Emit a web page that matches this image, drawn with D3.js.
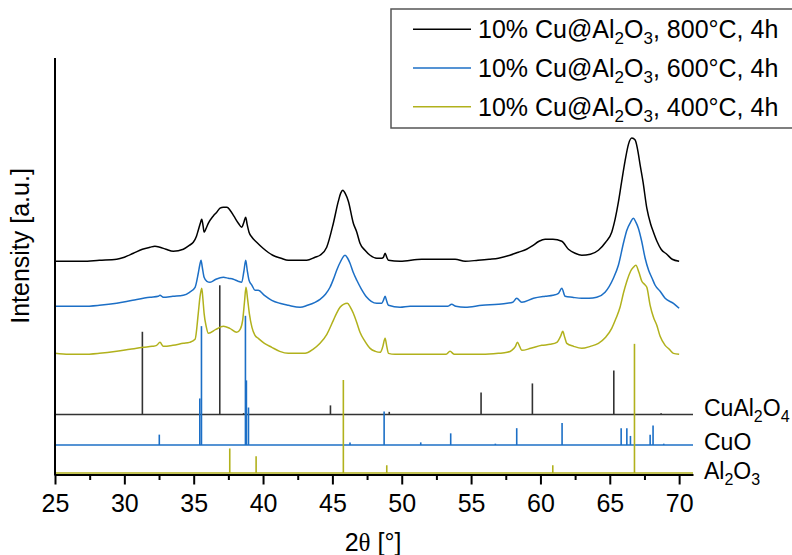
<!DOCTYPE html>
<html>
<head>
<meta charset="utf-8">
<script src="https://cdn.jsdelivr.net/npm/d3@7"></script>
<style>
  html, body { margin: 0; padding: 0; background: #fff; }
  svg { display: block; }
  text { font-family: "Liberation Sans", Arial, sans-serif; fill: #000; }
</style>
</head>
<body>
<svg id="chart" width="792" height="555"></svg>
<script>
// ---- Measured diffractograms: [2θ (°), intensity (a.u., stacked)] ----
const scan800 = [
  [25.0,213],[26.0,213],[27.0,213],[28.2,214],[29.45,215],[30.0,217],[30.65,221],[31.3,225],
  [31.85,227],[32.2,228],[32.57,227],[33.0,225],[33.53,223],[34.25,225],[34.7,229],[34.97,232],
  [35.2,238],[35.33,244],[35.5,252],[35.58,255],[35.68,248],[35.75,242],[35.9,246],[36.06,251],
  [36.4,258],[36.66,262],[36.9,266],[37.14,267],[37.4,267],[37.62,264],[37.9,258],[38.22,251],
  [38.46,247],[38.62,252],[38.75,257],[38.85,250],[38.99,242],[39.2,237],[39.54,232],[40.0,226],
  [40.7,219],[41.3,216],[41.82,214],[42.67,214],[43.15,214],[43.75,217],[44.11,219],[44.59,227],
  [45.07,251],[45.43,273],[45.6,281],[45.75,284],[45.95,280],[46.15,273],[46.51,251],[46.76,242],
  [46.99,231],[47.35,224],[47.72,219],[48.2,216],[48.56,216],[48.68,217],[48.8,221],[48.92,217],
  [49.04,214],[49.88,213],[51.44,215],[52.5,215],[53.85,215],[54.57,213],[55.5,214],[56.3,215],
  [56.97,216],[57.8,219],[58.41,222],[59.0,225],[59.38,228],[59.9,233],[60.34,235],[60.9,235],
  [61.54,233],[62.02,225],[62.5,221],[62.98,219],[63.6,220],[64.18,224],[64.7,232],[65.14,242],
  [65.4,256],[65.62,272],[65.85,292],[66.1,313],[66.35,330],[66.59,336],[66.83,334],[67.0,325],
  [67.19,309],[67.4,292],[67.67,266],[67.95,250],[68.15,242],[68.4,233],[68.7,225],[69.11,220],
  [69.5,215],[70.0,213]
];
const scan600 = [
  [25.0,168],[26.0,168],[27.04,168],[28.2,169],[29.45,171],[30.6,174],[31.85,177],[32.45,178],
  [32.57,179],[32.81,177],[33.5,178],[34.25,179],[34.7,182],[35.1,187],[35.33,201],[35.45,210],
  [35.53,214],[35.62,207],[35.75,197],[35.95,193],[36.18,192],[36.6,195],[37.14,197],[37.5,196],
  [37.86,195],[38.2,193],[38.46,192],[38.62,203],[38.75,214],[38.86,204],[38.99,194],[39.2,189],
  [39.42,184],[39.66,184],[40.1,179],[40.63,174],[41.2,171],[41.82,169],[42.67,167],[43.2,169],
  [43.75,172],[44.11,175],[44.5,180],[44.83,187],[45.1,196],[45.31,204],[45.6,213],[45.91,219],
  [46.1,216],[46.27,211],[46.5,202],[46.76,194],[47.1,185],[47.48,177],[47.8,173],[48.2,171],
  [48.56,171],[48.68,174],[48.8,178],[48.92,173],[49.04,169],[49.88,167],[50.6,168],[51.44,168],
  [52.4,168],[53.3,168],[53.6,170],[53.9,168],[54.57,167],[55.8,169],[56.97,170],[57.6,171],
  [58.0,172],[58.29,176],[58.65,172],[59.5,176],[60.34,178],[60.9,179],[61.3,181],[61.54,186],
  [61.78,178],[62.3,177],[62.98,176],[63.5,176],[64.06,177],[64.66,182],[65.26,196],[65.62,209],
  [66.0,232],[66.23,244],[66.5,252],[66.7,256],[66.88,252],[67.06,246],[67.3,233],[67.55,216],
  [67.8,204],[68.05,196],[68.27,189],[68.63,183],[68.99,176],[69.59,171],[70.0,166]
];
const scan400 = [
  [25.0,121],[26.0,120],[27.04,120],[28.2,121],[29.45,123],[30.4,125],[31.37,127],[32.0,128],
  [32.33,129],[32.57,132],[32.81,128],[33.5,129],[34.25,131],[34.7,132],[35.1,135],[35.33,161],
  [35.45,177],[35.58,186],[35.66,176],[35.75,161],[35.9,148],[36.06,141],[36.6,145],[37.14,148],
  [37.6,146],[38.1,142],[38.35,145],[38.53,154],[38.66,172],[38.77,187],[38.88,176],[39.01,161],
  [39.2,147],[39.42,139],[39.66,136],[40.1,131],[40.63,127],[41.2,123],[41.82,121],[42.67,121],
  [43.03,121],[43.6,125],[44.11,131],[44.6,140],[45.07,154],[45.3,161],[45.55,167],[45.8,170],
  [46.08,171],[46.3,167],[46.51,161],[46.75,152],[46.99,142],[47.35,133],[47.72,126],[48.1,123],
  [48.44,122],[48.62,127],[48.8,136],[48.92,128],[49.04,121],[49.52,120],[50.5,120],[51.44,120],
  [52.4,120],[53.2,120],[53.48,123],[53.8,120],[54.57,120],[55.8,120],[56.97,121],[57.6,122],
  [57.93,124],[58.2,128],[58.34,132],[58.5,128],[58.65,124],[59.3,126],[60.1,129],[60.7,130],
  [61.18,132],[61.45,138],[61.61,143],[61.75,137],[61.9,131],[62.4,128],[62.98,126],[63.6,128],
  [64.18,131],[64.7,137],[65.14,146],[65.45,156],[65.74,167],[66.0,182],[66.23,193],[66.5,203],
  [66.7,207],[66.88,209],[67.1,202],[67.31,193],[67.5,190],[67.67,187],[67.91,169],[68.15,157],
  [68.39,149],[68.63,138],[68.99,129],[69.3,125],[69.59,121],[70.0,120]
];

const seriesNames = ["10% Cu@Al₂O₃, 800°C, 4h", "10% Cu@Al₂O₃, 600°C, 4h", "10% Cu@Al₂O₃, 400°C, 4h"];

// ---- Reference patterns: [2θ (°), relative intensity (%)] ----
const refCuAl2O4 = [
  [31.3,64],[36.88,100],[38.6,1],[44.86,7],[49.1,2],[55.72,17],[59.42,24],[65.29,34],[68.7,1]
];
const refCuO = [
  [32.52,8],[35.44,36],[35.56,92],[38.73,100],[38.8,50],[38.95,29],[46.27,2],[48.73,26],
  [51.37,2],[53.53,9],[56.75,1],[58.29,13],[61.56,17],[65.82,13],[66.23,13],[66.49,7],
  [67.91,8],[68.12,15],[68.89,1]
];
const refAl2O3 = [
  [37.6,19],[39.5,13],[45.79,72],[48.92,6],[60.89,6],[66.78,100]
];

// Tick values of the 2θ axis
const majorTicks = [25, 30, 35, 40, 45, 50, 55, 60, 65, 70];
const minorTicks = [27.5, 32.5, 37.5, 42.5, 47.5, 52.5, 57.5, 62.5, 67.5];

// ---- Layout and styling ----
const colors = { c800: "#000000", c600: "#1c6fc6", c400: "#b1b11c", cuAl2O4: "#333333" };
const plot = { left: 55, right: 693, top: 58, bottom: 474.5 };

const svg = d3.select("#chart");
const x = d3.scaleLinear().domain([25, 71]).range([plot.left, plot.right]);
const y = d3.scaleLinear().domain([0, 416]).range([plot.bottom, plot.top]);
// relative reference intensity (%) -> a.u. on the intensity axis
const stickH = d3.scaleLinear().domain([0, 100]).range([0, 129]);

// Reference stick patterns (drawn underneath the scans)
const patterns = [
  { name: [["CuAl"], ["2", true], ["O"], ["4", true]], data: refCuAl2O4, base: 60, color: colors.cuAl2O4, labelY: 416 },
  { name: [["CuO"]], data: refCuO, base: 29.5, color: colors.c600, labelY: 449.5 },
  { name: [["Al"], ["2", true], ["O"], ["3", true]], data: refAl2O3, base: 1.5, color: colors.c400, labelY: 479 }
];

function richText(sel, parts, size, subSize, subShift) {
  let shift = 0;
  parts.forEach(([t, sub]) => {
    const ts = sel.append("tspan").text(t);
    if (sub) { ts.attr("font-size", subSize).attr("dy", subShift - shift); shift = subShift; }
    else { ts.attr("font-size", size).attr("dy", -shift); shift = 0; }
  });
}

patterns.forEach(p => {
  const g = svg.append("g");
  g.append("line")
    .attr("x1", plot.left).attr("x2", plot.right)
    .attr("y1", y(p.base)).attr("y2", y(p.base))
    .attr("stroke", p.color).attr("stroke-width", 1.6);
  g.selectAll("line.stick").data(p.data).join("line")
    .attr("class", "stick")
    .attr("x1", d => x(d[0])).attr("x2", d => x(d[0]))
    .attr("y1", y(p.base)).attr("y2", d => y(p.base + stickH(d[1])))
    .attr("stroke", p.color).attr("stroke-width", 1.6);
  const t = svg.append("text").attr("x", 704).attr("y", p.labelY);
  richText(t, p.name, 23, 16, 6);
});

// Stacked diffractograms
const line = d3.line().x(d => x(d[0])).y(d => y(d[1])).curve(d3.curveMonotoneX);
[[scan400, colors.c400], [scan600, colors.c600], [scan800, colors.c800]].forEach(([s, c]) => {
  svg.append("path").datum(s)
    .attr("d", line).attr("fill", "none")
    .attr("stroke", c).attr("stroke-width", 1.5).attr("stroke-linejoin", "round");
});

// 2θ axis
const axisG = svg.append("g").attr("transform", `translate(0,${plot.bottom})`);
axisG.call(d3.axisBottom(x).tickValues(minorTicks).tickSize(5.5).tickSizeOuter(0).tickFormat(""));
axisG.call(g => g.select(".domain").remove());
const majG = svg.append("g").attr("transform", `translate(0,${plot.bottom})`)
  .call(d3.axisBottom(x).tickValues(majorTicks).tickSize(10).tickSizeOuter(0).tickPadding(9.5).tickFormat(d3.format("d")));
majG.selectAll("text").attr("font-size", 25).attr("font-family", "Liberation Sans, Arial, sans-serif").attr("fill", "#000");
svg.selectAll(".tick line").attr("stroke", "#000").attr("stroke-width", 2);
majG.select(".domain").attr("stroke", "#000").attr("stroke-width", 2);

// Intensity axis (no ticks)
svg.append("line")
  .attr("x1", plot.left).attr("x2", plot.left)
  .attr("y1", y(416)).attr("y2", plot.bottom + 1)
  .attr("stroke", "#000").attr("stroke-width", 2);

// Axis titles
const xt = svg.append("text").attr("x", (plot.left + plot.right) / 2 - 1).attr("y", 551)
  .attr("text-anchor", "middle").attr("font-size", 25);
xt.append("tspan").text("2");
xt.append("tspan").attr("font-family", "Liberation Serif, serif").text("θ");
xt.append("tspan").text(" [°]");

svg.append("text")
  .attr("transform", "translate(29,246) rotate(-90)")
  .attr("text-anchor", "middle").attr("font-size", 25)
  .text("Intensity [a.u.]");

// Legend
const legend = svg.append("g");
legend.append("rect")
  .attr("x", 391).attr("y", 9).attr("width", 420).attr("height", 119)
  .attr("fill", "#fff").attr("stroke", "#555").attr("stroke-width", 1.5);
const legendRows = [
  { color: colors.c800, parts: [["10% Cu@Al"], ["2", true], ["O"], ["3", true], [", 800°C, 4h"]] },
  { color: colors.c600, parts: [["10% Cu@Al"], ["2", true], ["O"], ["3", true], [", 600°C, 4h"]] },
  { color: colors.c400, parts: [["10% Cu@Al"], ["2", true], ["O"], ["3", true], [", 400°C, 4h"]] }
];
legendRows.forEach((r, i) => {
  const cy = 29.3 + i * 38.7;
  legend.append("line").attr("x1", 413).attr("x2", 471).attr("y1", cy).attr("y2", cy)
    .attr("stroke", r.color).attr("stroke-width", 1.6);
  const t = legend.append("text").attr("x", 478).attr("y", cy + 9).attr("aria-label", seriesNames[i]);
  richText(t, r.parts, 25, 17, 6);
});
</script>
</body>
</html>
